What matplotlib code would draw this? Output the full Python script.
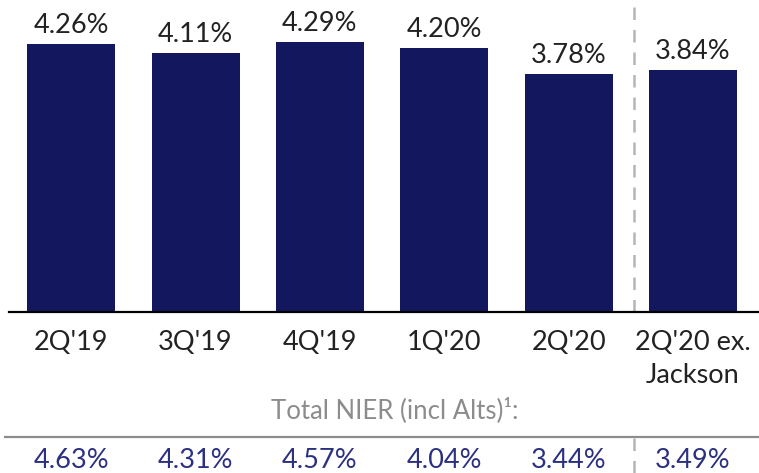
import matplotlib
matplotlib.use("Agg")
import matplotlib.pyplot as plt
from matplotlib.lines import Line2D

categories = ["2Q'19", "3Q'19", "4Q'19", "1Q'20", "2Q'20", "2Q'20 ex.\nJackson"]
nier = [4.26, 4.11, 4.29, 4.20, 3.78, 3.84]
total_nier = [4.63, 4.31, 4.57, 4.04, 3.44, 3.49]
footer_title = "Total NIER (incl Alts)¹:"

W, H = 759, 473
fig = plt.figure(figsize=(W / 100, H / 100), dpi=100)
plt.rcParams['font.family'] = ['Lato', 'DejaVu Sans']

navy = "#13185E"
blue_txt = "#2B3080"
FS = 19.5

ax = fig.add_axes([9 / W, (H - 312) / H, (W - 9) / W, 312 / H])
x = list(range(len(categories)))
ax.bar(x, nier, width=0.707, color=navy, zorder=2)
ax.set_xlim(-0.5, 5.53)
ax.set_ylim(0, 312 / 62.9)
for s in ["top", "right", "left"]:
    ax.spines[s].set_visible(False)
ax.spines["bottom"].set_linewidth(1.6)
ax.spines["bottom"].set_color("black")
ax.set_yticks([])
ax.set_xticks(x)
ax.set_xticklabels(categories, fontsize=FS, color="#222222", linespacing=1.42, va="top")
ax.tick_params(axis="x", length=0, pad=13)

for xi, v in zip(x, nier):
    ax.annotate(f"{v:.2f}%", (xi, v), xytext=(0, 8), textcoords="offset points",
                ha="center", va="baseline", fontsize=FS, color="#222222")

ax.axvline(4.526, ymin=0, ymax=0.985, color="#b5b5b5", linestyle=(0, (5, 4)), linewidth=1.8, zorder=1)

fig.text(395 / W, 1 - 418 / H, footer_title, ha="center", va="baseline", fontsize=18.5,
         color="#8c8c8c")
fig.add_artist(Line2D([5 / W, 1], [1 - 437 / H, 1 - 437 / H], color="#8c8c8c", linewidth=1.6))

xd = (9 + (4.526 + 0.5) / 6.03 * 750) / W
fig.add_artist(Line2D([xd, xd], [1 - 438 / H, 0], color="#b5b5b5", linestyle=(0, (5, 4)), linewidth=1.8))

for xi, v in zip(x, total_nier):
    xf = (9 + (xi + 0.5) / 6.03 * 750) / W
    fig.text(xf, 1 - 468 / H, f"{v:.2f}%", ha="center", va="baseline", fontsize=FS,
             color=blue_txt)

fig.savefig("out.png", dpi=100)
